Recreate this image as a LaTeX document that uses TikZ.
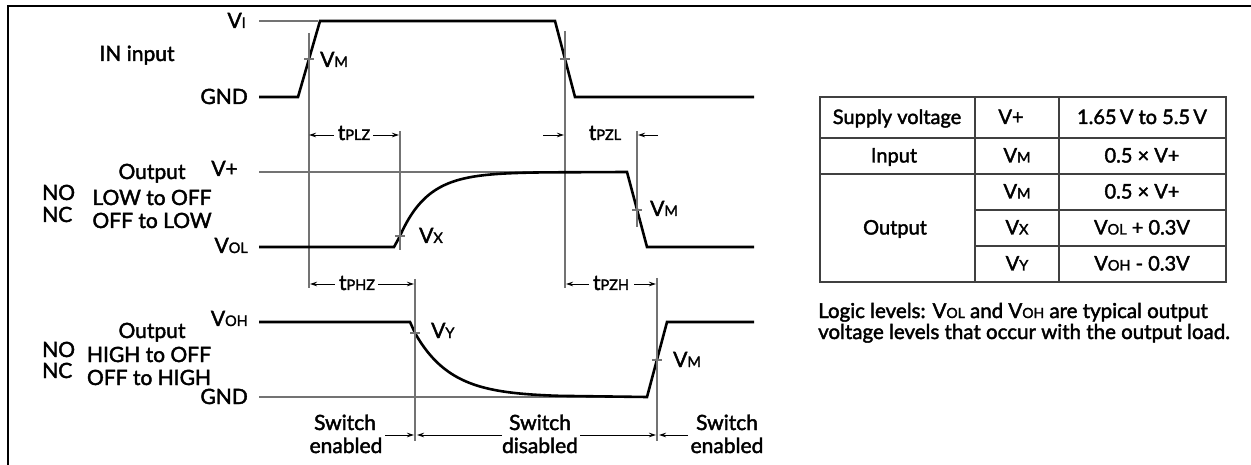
\documentclass[tikz,border=0pt]{standalone}
\usepackage{fontspec}
\setmainfont{Lato}[FakeBold=2]
\usetikzlibrary{arrows.meta}
\newcommand\sbx[1]{{\fontsize{14.5}{14.5}\selectfont #1}}
\newcommand\sbn[1]{{\fontsize{14}{14}\selectfont #1}}
\begin{document}
\begin{tikzpicture}[x=1pt,y=-1pt,
  wave/.style={line width=2.6pt,black,line join=miter},
  refl/.style={line width=1.1pt,black!55},
  arr/.style={line width=0.9pt,black,-{Stealth[length=7pt,width=4.5pt]}},
  lab/.style={inner sep=0pt,font=\fontsize{21}{25}\selectfont},
  lr/.style={lab,anchor=base east},
  ll/.style={lab,anchor=base west},
  lc/.style={lab,anchor=base},
  tl/.style={inner sep=0pt,anchor=base,font=\fontsize{20}{24}\selectfont},
  note/.style={inner sep=0pt,anchor=base west,font=\fontsize{20.5}{22}\selectfont},
  tbl/.style={line width=1.3pt,black!75}]
\useasboundingbox (0,0) rectangle (1251,465);
\draw[line width=2.2pt] (8,470) -- (8,6) -- (1262,6);

% ---------- IN input ----------
\node[lab,anchor=base] (inlab) at (137,61) {IN input};
\node[lr] (vi) at (246,28) {V\sbx{I}};
\node[lr] (gnd1) at (248,104) {GND};
\draw[refl] (259,21) -- (318,21);
\draw[wave] (259,97) -- (298,97) -- (320,21) -- (555,21) -- (575,97) -- (754,97);
\coordinate (a1) at (309,33); \coordinate (a2) at (309,288);
\coordinate (b1) at (565,31); \coordinate (b2) at (565,288);
\draw[refl] (a1) -- (a2);
\draw[refl] (b1) -- (b2);
\draw[refl] (304,59) -- (314,59);
\draw[refl] (560,59) -- (570,59);
\node[ll] (vm1) at (320,67) {V\sbx{M}};

% ---------- Output LOW to OFF ----------
\node[lc] (out1) at (152,179) {Output};
\node[ll] (no1) at (42,200) {NO};
\node[ll] (nc1) at (42,222) {NC};
\node[lc] (lo1) at (152,205) {LOW to OFF};
\node[lc] (lo2) at (152,228) {OFF to LOW};
\node[lr] (vp) at (238,176) {V+};
\node[lr] (vol) at (248,253) {V\sbx{OL}};
\draw[refl] (259,172) -- (627,172);
\draw[wave] (259,247) -- (394,247) -- (400,236)
  -- plot[domain=400:545,samples=80] (\x,{172+64*exp(-(\x-400)/28)})
  -- (627,172) -- (647,247) -- (754,247);
\coordinate (c1) at (400,131); \coordinate (c2) at (400,250);
\coordinate (d1) at (637,131); \coordinate (d2) at (637,227);
\draw[refl] (c1) -- (c2);
\draw[refl] (d1) -- (d2);
\draw[refl] (395,236) -- (405,236);
\draw[refl] (632,210) -- (642,210);
\node[ll] (vx) at (419,243) {V\sbx{X}};
\node[ll] (vm2) at (650,216) {V\sbx{M}};

% tPLZ / tPZL
\node[lc] (tplz) at (354,140) {t\sbx{PLZ}};
\draw[arr] ([xshift=-4pt]tplz.west |- 0,135) -- (a1 |- 0,135);
\draw[arr] ([xshift=3pt]tplz.east |- 0,135) -- ([xshift=-1pt]c1 |- 0,135);
\node[lc] (tpzl) at (605,140) {t\sbx{PZL}};
\draw[arr] (543,135) -- ([xshift=-1pt]b1 |- 0,135);
\draw[arr] (658,135) -- ([xshift=1pt]d1 |- 0,135);

% ---------- Output HIGH to OFF ----------
\node[lr] (voh) at (248,326) {V\sbx{OH}};
\node[lc] (out2) at (152,338) {Output};
\node[ll] (no2) at (42,357) {NO};
\node[ll] (nc2) at (42,378) {NC};
\node[lc] (hi1) at (149,362) {HIGH to OFF};
\node[lc] (hi2) at (149,385) {OFF to HIGH};
\node[lr] (gnd2) at (248,404) {GND};
\draw[refl] (259,397) -- (647,397);
\draw[wave] (259,322) -- (410,322) -- (415,333)
  -- plot[domain=415:560,samples=80] (\x,{397-64*exp(-(\x-415)/36)})
  -- (647,397) -- (667,322) -- (754,322);
\coordinate (e1) at (415,279); \coordinate (e2) at (415,441);
\coordinate (f1) at (657,278); \coordinate (f2) at (657,441);
\draw[refl] (e1) -- (e2);
\draw[refl] (f1) -- (f2);
\draw[refl] (410,333) -- (420,333);
\draw[refl] (652,360) -- (662,360);
\node[ll] (vy) at (431,338) {V\sbx{Y}};
\node[ll] (vm3) at (673,367) {V\sbx{M}};

% tPHZ / tPZH
\node[lc] (tphz) at (357,290) {t\sbx{PHZ}};
\draw[arr] ([xshift=-4pt]tphz.west |- 0,284) -- ([xshift=1pt]a2 |- 0,284);
\draw[arr] ([xshift=3pt]tphz.east |- 0,284) -- ([xshift=-1pt]e1 |- 0,284);
\node[lc] (tpzh) at (611,290) {t\sbx{PZH}};
\draw[arr] ([xshift=-4pt]tpzh.west |- 0,284) -- ([xshift=1pt]b2 |- 0,284);
\draw[arr] ([xshift=5pt]tpzh.east |- 0,284) -- ([xshift=-1pt]f1 |- 0,284);

% switch states
\node[lc] (sw1) at (345,430) {Switch};
\node[lc] (en1) at (346,453) {enabled};
\node[lc] (sw2) at (540,430) {Switch};
\node[lc] (di2) at (540,453) {disabled};
\node[lc] (sw3) at (727,430) {Switch};
\node[lc] (en3) at (727,453) {enabled};
\draw[arr] (385,435) -- ([xshift=-1pt]e2 |- 0,435);
\draw[arr] (502,435) -- ([xshift=2pt]e2 |- 0,435);
\draw[arr] (580,435) -- ([xshift=-1pt]f2 |- 0,435);
\draw[arr] (688,435) -- ([xshift=2pt]f2 |- 0,435);

% ---------- table ----------
\draw[tbl] (820,97) rectangle (1226,282);
\draw[tbl] (820,138) -- (1226,138);
\draw[tbl] (820,174) -- (1226,174);
\draw[tbl] (975,210) -- (1226,210);
\draw[tbl] (975,246) -- (1226,246);
\draw[tbl] (975,97) -- (975,282);
\draw[tbl] (1059,97) -- (1059,282);
\node[tl] (t11) at (897,124) {Supply voltage};
\node[tl] (t12) at (1011,124) {V+};
\node[tl] (t13) at (1142,124) {1.65\,V to 5.5\,V};
\node[tl] (t21) at (894,162.5) {Input};
\node[tl] (t22) at (1017,162.5) {V\sbx{M}};
\node[tl] (t23) at (1142,162.5) {0.5 × V+};
\node[tl] (t31) at (895,234.5) {Output};
\node[tl] (t32) at (1017,198.5) {V\sbx{M}};
\node[tl] (t33) at (1142,198.5) {0.5 × V+};
\node[tl] (t42) at (1017,234.5) {V\sbx{X}};
\node[tl] (t43) at (1142,234.5) {V\sbx{OL} + 0.3V};
\node[tl] (t52) at (1017,270.5) {V\sbx{Y}};
\node[tl] (t53) at (1142,270.5) {V\sbx{OH} - 0.3V};

\node[note] (n1) at (818,318) {Logic levels: V\sbn{OL} and V\sbn{OH} are typical output};
\node[note] (n2) at (818,339) {voltage levels that occur with the output load.};
\end{tikzpicture}
\end{document}
